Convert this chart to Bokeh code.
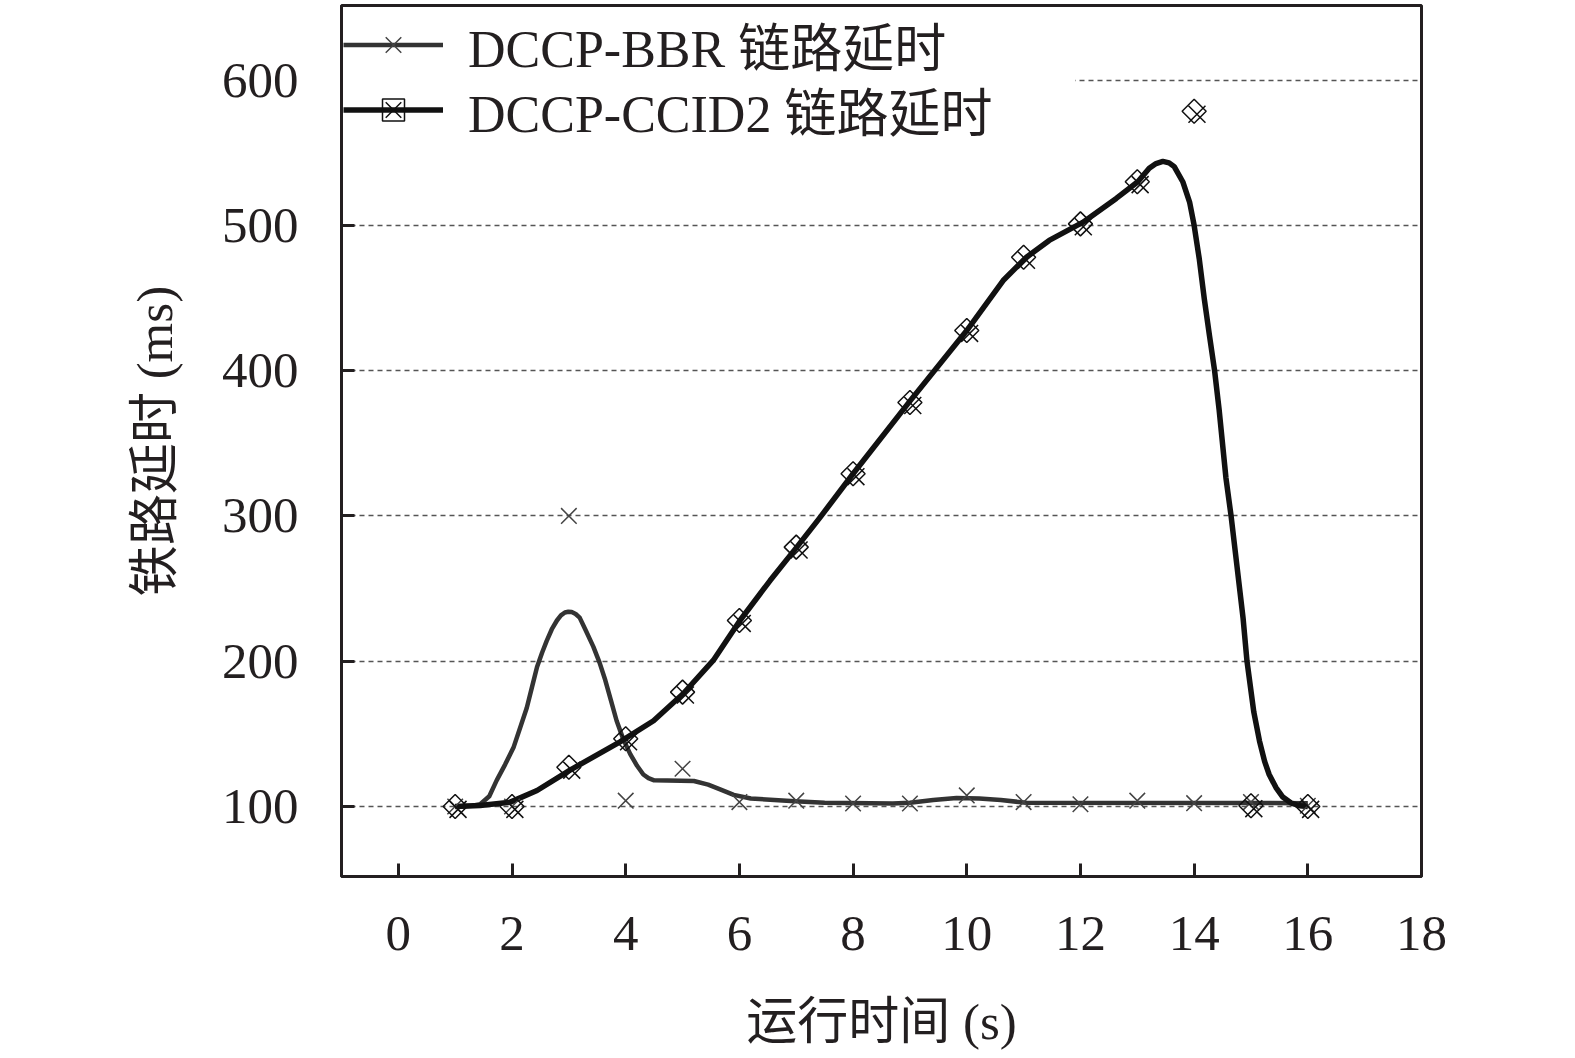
import numpy as np
from bokeh.plotting import figure
from bokeh.models import ColumnDataSource, Legend, LegendItem, FixedTicker, Range1d
from bokeh.transform import dodge
from bokeh.embed import file_html
from bokeh.resources import INLINE

# ---- data ----
time_s = [1, 2, 3, 4, 5, 6, 7, 8, 9, 10, 11, 12, 13, 14, 15, 16]
bbr_delay = [100, 100, 300, 104, 126, 103, 104, 102, 102, 107.6, 103, 101.5, 104, 102.3, 103, 100.5]
ccid2_delay = [100, 100, 127, 146.6, 178.7, 228, 278.5, 329, 378, 427.6, 478, 501, 530, 578.5, 100.5, 100]

bbr_curve_x = [1.0, 1.3, 1.44, 1.6, 1.73, 1.88, 2.03, 2.15, 2.26, 2.35, 2.44, 2.53, 2.61, 2.7,
               2.79, 2.86, 2.93, 2.99, 3.05, 3.12, 3.19, 3.3, 3.43, 3.54, 3.64, 3.74, 3.84,
               3.96, 4.08, 4.2, 4.31, 4.4, 4.5, 5.2, 5.45, 5.65, 5.9, 6.2, 6.83, 7.06, 7.5,
               8.7, 9.0, 9.41, 9.82, 10.22, 10.6, 11.05, 16.0]
bbr_curve_y = [100, 100.5, 101.5, 107, 118, 129, 141, 155, 168, 182, 196, 206, 214, 222,
               228, 231.5, 233.5, 234, 233.8, 232.5, 230, 221, 210, 199, 187, 173, 159,
               146, 136, 128, 122, 119.5, 118, 117.5, 115, 112, 108, 105.5, 104, 103.4, 102.5,
               102, 102.6, 104.5, 105.8, 105.5, 104.5, 102.5, 102.3]

ccid2_curve_x = [1.0, 1.44, 1.97, 2.44, 3.02, 3.9, 4.49, 5.01, 5.54, 6.01, 6.54, 7.01, 7.42,
                 8.0, 9.0, 10.0, 10.64, 11.05, 11.45, 12.04, 12.63, 13.01, 13.21, 13.33, 13.45,
                 13.56, 13.65, 13.8, 13.92, 14.0, 14.09, 14.18, 14.27, 14.36, 14.44, 14.56,
                 14.65, 14.74, 14.86, 14.93, 15.05, 15.15, 15.24, 15.32, 15.44, 15.56, 15.7,
                 15.85, 16.0]
ccid2_curve_y = [100, 100.7, 103, 111, 125, 144.5, 159, 177.6, 200.5, 228, 255.5, 278.5, 299,
                 329, 379, 427.6, 462, 478, 489.6, 502, 518.5, 530, 539.3, 542.5, 544,
                 543, 540.4, 530, 516, 500, 477, 449, 424, 400, 373, 326,
                 300, 270, 230, 200, 165, 145, 131, 122, 113, 106.5, 102.5,
                 100.5, 100]

x_ticks = [0, 2, 4, 6, 8, 10, 12, 14, 16, 18]
y_ticks = [100, 200, 300, 400, 500, 600]

label_bbr = "DCCP-BBR 链路延时"
label_ccid2 = "DCCP-CCID2 链路延时"
x_title = "运行时间 (s)"
y_title = "铁路延时 (ms)"

FONT = "Liberation Serif, Noto Sans CJK SC"
TXT = "#231f20"

p = figure(width=1575, height=1058, x_range=Range1d(-1, 18), y_range=Range1d(51.8, 651.3),
           output_backend="svg", toolbar_location=None,
           min_border_left=341, min_border_right=154, min_border_top=5, min_border_bottom=182)
p.background_fill_color = "white"
p.border_fill_color = "white"
p.outline_line_color = TXT
p.outline_line_width = 3

pts = ColumnDataSource(dict(t=time_s, bbr=bbr_delay, cc=ccid2_delay))
bbr_c = ColumnDataSource(dict(x=bbr_curve_x, y=bbr_curve_y))
cc_c = ColumnDataSource(dict(x=ccid2_curve_x, y=ccid2_curve_y))

r_bbr_line = p.line("x", "y", source=bbr_c, line_color="#333333", line_width=4.5, line_join="round")
r_cc_line = p.line("x", "y", source=cc_c, line_color="#111111", line_width=5.5, line_join="round")
r_bbr_pts = p.scatter("t", "bbr", source=pts, marker="x", size=22, line_color="#444444", line_width=1.5)
r_cc_d = p.scatter("t", "cc", source=pts, marker="square", angle=np.pi / 4, size=17,
                   line_color="#111111", fill_color=None, line_width=1.5)
r_cc_x = p.scatter(dodge("t", 0.05, range=p.x_range), dodge("cc", -2, range=p.y_range), source=pts,
                   marker="x", size=24, line_color="#111111", line_width=1.5)

for ax in (p.xaxis, p.yaxis):
    ax.level = "overlay"
    ax.axis_line_color = TXT
    ax.axis_line_width = 3
    ax.major_tick_line_color = TXT
    ax.major_tick_line_width = 3
    ax.major_tick_in = 13
    ax.major_tick_out = 0
    ax.minor_tick_line_color = None
    ax.major_label_text_font = FONT
    ax.major_label_text_font_size = "51px"
    ax.major_label_text_color = TXT
    ax.axis_label_text_font = FONT
    ax.axis_label_text_font_size = "51px"
    ax.axis_label_text_font_style = "normal"
    ax.axis_label_text_color = TXT

p.xaxis.ticker = FixedTicker(ticks=x_ticks)
p.yaxis.ticker = FixedTicker(ticks=y_ticks)
p.xaxis.axis_label = x_title
p.yaxis.axis_label = y_title
p.xaxis.major_label_standoff = 40
p.xaxis.axis_label_standoff = 41
p.yaxis.major_label_standoff = 43
p.yaxis.axis_label_standoff = 36

p.xgrid.visible = False
p.ygrid.grid_line_color = "#555555"
p.ygrid.grid_line_width = 1.5
p.ygrid.grid_line_dash = "5 4"


def style_legend(lg, label_width, bg_alpha):
    lg.padding = 0
    lg.spacing = 0
    lg.glyph_width = 100
    lg.glyph_height = 55
    lg.label_standoff = 25
    lg.label_width = label_width
    lg.label_text_font = FONT
    lg.label_text_font_size = "52px"
    lg.label_text_color = TXT
    lg.label_text_baseline = "middle"
    lg.border_line_color = None
    lg.background_fill_color = "white"
    lg.background_fill_alpha = bg_alpha


legend1 = Legend(items=[LegendItem(label=label_bbr, renderers=[r_bbr_line, r_bbr_pts])],
                 location="top_left")
legend1.margin = 2
style_legend(legend1, 607, 1.0)

legend2 = Legend(items=[LegendItem(label=label_ccid2, renderers=[r_cc_line, r_cc_d, r_cc_x])],
                 location=(2, 729))
legend2.margin = 0
style_legend(legend2, 20, 0.0)

p.add_layout(legend1)
p.add_layout(legend2)

open("out.html", "w").write(file_html(p, INLINE))
